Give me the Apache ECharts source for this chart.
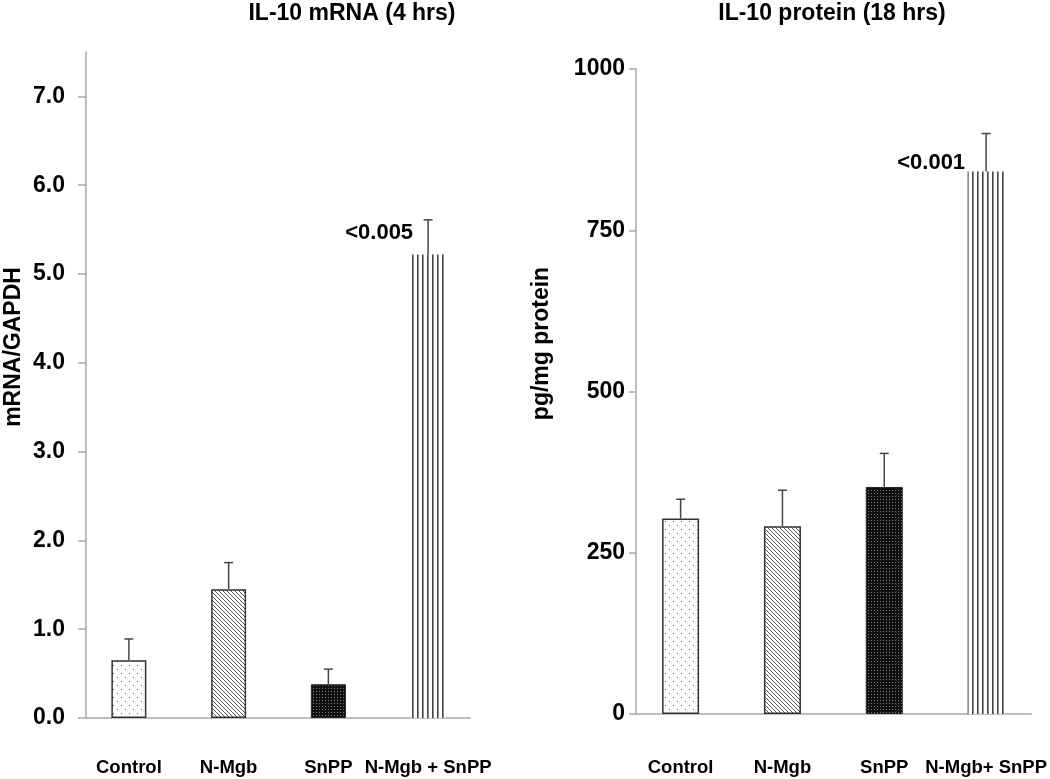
<!DOCTYPE html>
<html>
<head>
<meta charset="utf-8">
<script src="https://cdn.jsdelivr.net/npm/echarts@6/dist/echarts.min.js"></script>
<style>
html,body{margin:0;padding:0;background:#fff;}
#chart{width:1050px;height:779px;}
</style>
</head>
<body>
<div id="chart"></div>
<script>
// ---- data ----
const mrnaCategories = ['Control', 'N-Mgb', 'SnPP', 'N-Mgb + SnPP'];
const mrnaMean = [0.65, 1.45, 0.38, 5.22];
const mrnaSE = [0.24, 0.30, 0.17, 0.39];
const mrnaP = ['', '', '', '<0.005'];
const mrnaTicks = [0, 1, 2, 3, 4, 5, 6, 7];

const proteinCategories = ['Control', 'N-Mgb', 'SnPP', 'N-Mgb+ SnPP'];
const proteinMean = [303, 291, 352, 841];
const proteinSE = [30, 56, 52, 59];
const proteinP = ['', '', '', '<0.001'];
const proteinTicks = [0, 250, 500, 750, 1000];

const titles = ['IL-10 mRNA (4 hrs)', 'IL-10 protein (18 hrs)'];
const yNames = ['mRNA/GAPDH', 'pg/mg protein'];

// ---- patterns ----
function tile(w, h, draw) {
  const c = document.createElement('canvas');
  c.width = w; c.height = h;
  const ctx = c.getContext('2d');
  draw(ctx, w, h);
  return { image: c, repeat: 'repeat' };
}
const dotPattern = tile(8, 8, (ctx) => {
  ctx.fillStyle = '#fff'; ctx.fillRect(0, 0, 8, 8);
  ctx.fillStyle = '#666';
  ctx.fillRect(1, 1, 1, 1);
  ctx.fillRect(5, 5, 1, 1);
});
const diagPattern = tile(4, 4, (ctx) => {
  ctx.fillStyle = '#fff'; ctx.fillRect(0, 0, 4, 4);
  ctx.strokeStyle = '#555'; ctx.lineWidth = 1;
  ctx.beginPath();
  ctx.moveTo(-1, -1); ctx.lineTo(5, 5);
  ctx.moveTo(-1, 3); ctx.lineTo(1, 5);
  ctx.moveTo(3, -1); ctx.lineTo(5, 1);
  ctx.stroke();
});
const darkPattern = tile(3, 3, (ctx) => {
  ctx.fillStyle = '#111'; ctx.fillRect(0, 0, 3, 3);
  ctx.fillStyle = '#777';
  ctx.fillRect(1, 1, 1, 1);
});
const vertPattern = tile(5, 4, (ctx) => {
  ctx.fillStyle = '#fff'; ctx.fillRect(0, 0, 5, 4);
  ctx.fillStyle = '#444';
  ctx.fillRect(2, 0, 1.6, 4);
});
const barStyles = [
  { color: dotPattern, borderColor: '#333', borderWidth: 1.5 },
  { color: diagPattern, borderColor: '#333', borderWidth: 1.5 },
  { color: darkPattern, borderColor: '#222', borderWidth: 1 },
  { color: vertPattern, borderWidth: 0 }
];

const FONT = '"Liberation Sans", Arial, sans-serif';
const AXIS_COLOR = '#a9a9a9';

function errorSeries(gridIdx, means, ses, pvals, labelDx, labelDy) {
  return {
    type: 'custom',
    xAxisIndex: gridIdx,
    yAxisIndex: gridIdx,
    z: 5,
    data: means.map((v, i) => [i, v, ses[i]]),
    renderItem: function (params, api) {
      const i = api.value(0), m = api.value(1), se = api.value(2);
      const base = api.coord([i, m]);
      const top = api.coord([i, m + se]);
      const children = [
        { type: 'line', shape: { x1: base[0], y1: base[1], x2: top[0], y2: top[1] },
          style: { stroke: '#444', lineWidth: 1.5 } },
        { type: 'line', shape: { x1: top[0] - 4.5, y1: top[1], x2: top[0] + 4.5, y2: top[1] },
          style: { stroke: '#444', lineWidth: 1.5 } }
      ];
      const p = pvals[params.dataIndex];
      if (p) {
        children.push({
          type: 'text', x: base[0] + labelDx, y: base[1] + labelDy,
          style: { text: p, fill: '#000', font: 'bold 22px ' + FONT, align: 'right', verticalAlign: 'middle' }
        });
      }
      return { type: 'group', children: children };
    }
  };
}

function barSeries(gridIdx, means, width) {
  return {
    type: 'bar',
    xAxisIndex: gridIdx,
    yAxisIndex: gridIdx,
    barWidth: width,
    z: 2,
    data: means.map((v, i) => ({ value: [i, v], itemStyle: barStyles[i] }))
  };
}

function xAxis(gridIdx, cats, min, max, margin) {
  return {
    gridIndex: gridIdx, type: 'value', min: min, max: max,
    axisLine: { show: true, onZero: false, lineStyle: { color: AXIS_COLOR, width: 1.5 } },
    axisTick: { show: false },
    splitLine: { show: false },
    axisLabel: {
      customValues: [0, 1, 2, 3],
      formatter: (v) => cats[Math.round(v)],
      margin: margin, fontSize: 18.5, fontWeight: 'bold', color: '#000', fontFamily: FONT
    }
  };
}

function yAxis(gridIdx, name, max, ticks, fmt, tickLen, labelMargin, nameGap, namePad) {
  return {
    gridIndex: gridIdx, type: 'value', min: 0, max: max,
    axisLine: { show: true, onZero: false, lineStyle: { color: AXIS_COLOR, width: 1.5 } },
    axisTick: { show: true, length: tickLen, customValues: ticks, lineStyle: { color: AXIS_COLOR, width: 1.5 } },
    splitLine: { show: false },
    axisLabel: { customValues: ticks, formatter: fmt, margin: labelMargin, fontSize: 23, fontWeight: 'bold', color: '#000', fontFamily: FONT },
    name: name, nameLocation: 'middle', nameGap: nameGap,
    nameTextStyle: { fontSize: 23, fontWeight: 'bold', color: '#000', fontFamily: FONT, padding: namePad }
  };
}

const chart = echarts.init(document.getElementById('chart'), null, { renderer: 'canvas' });
chart.setOption({
  backgroundColor: '#fff',
  animation: false,
  textStyle: { fontFamily: FONT },
  title: [
    { text: titles[0], left: 352, top: 2, textAlign: 'center', padding: 0,
      textStyle: { fontSize: 23, fontWeight: 'bold', color: '#000', fontFamily: FONT } },
    { text: titles[1], left: 832, top: 2, textAlign: 'center', padding: 0,
      textStyle: { fontSize: 23, fontWeight: 'bold', color: '#000', fontFamily: FONT } }
  ],
  grid: [
    { left: 86, top: 52, width: 384, height: 666 },
    { left: 636, top: 69, width: 399, height: 645 }
  ],
  xAxis: [
    xAxis(0, mrnaCategories, -0.43, 3.42, 40),
    xAxis(1, proteinCategories, -0.438, 3.443, 44)
  ],
  yAxis: [
    yAxis(0, yNames[0], 7.5, mrnaTicks, (v) => v.toFixed(1), 8, 21, 61, [0, 0, 0, 76]),
    yAxis(1, yNames[1], 1000, proteinTicks, (v) => String(v), 7, 11, 83, [0, 0, 0, 96])
  ],
  series: [
    barSeries(0, mrnaMean, 35),
    errorSeries(0, mrnaMean, mrnaSE, mrnaP, -15, -22),
    barSeries(1, proteinMean, 37),
    errorSeries(1, proteinMean, proteinSE, proteinP, -21, -9)
  ]
});
</script>
</body>
</html>
